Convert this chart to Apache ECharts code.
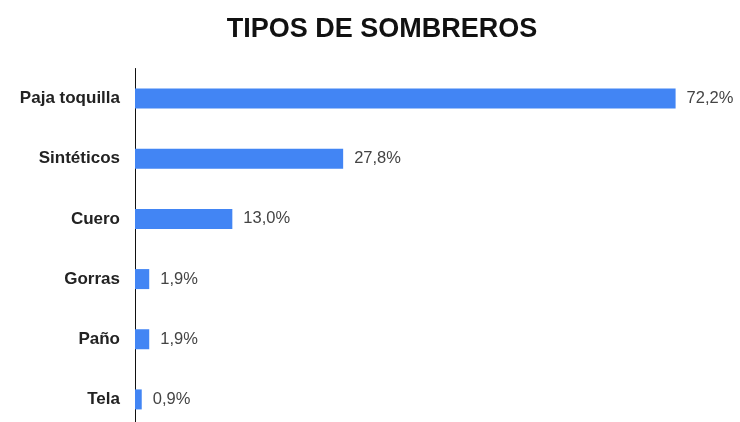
<!DOCTYPE html>
<html>
<head>
<meta charset="utf-8">
<script src="https://cdn.jsdelivr.net/npm/echarts@6/dist/echarts.min.js"></script>
<style>
  html, body { margin: 0; padding: 0; background: #ffffff; }
  #chart { width: 740px; height: 422px; }
</style>
</head>
<body>
<div id="chart"></div>
<script>
// Hat types and their share of the total (%)
const categories = ['Paja toquilla', 'Sintéticos', 'Cuero', 'Gorras', 'Paño', 'Tela'];
const shares = [72.2, 27.8, 13.0, 1.9, 1.9, 0.9];
const titleText = 'TIPOS DE SOMBREROS';

const chart = echarts.init(document.getElementById('chart'), null, { renderer: 'canvas' });

chart.setOption({
  backgroundColor: '#ffffff',
  animation: false,
  title: {
    text: titleText,
    left: 377,
    textAlign: 'center',
    top: 11,
    textStyle: {
      fontFamily: 'Liberation Sans, Arial, sans-serif',
      fontWeight: 'bold',
      fontSize: 27,
      color: '#111111'
    }
  },
  grid: {
    left: 135,
    top: 68.5,
    width: 599,
    height: 361,
    containLabel: false,
    outerBoundsMode: 'none'
  },
  xAxis: {
    type: 'value',
    min: 0,
    max: 80,
    show: false
  },
  yAxis: {
    type: 'category',
    data: categories,
    inverse: true,
    axisLine: { show: true, lineStyle: { color: '#111111', width: 1 } },
    axisTick: { show: false },
    splitLine: { show: false },
    axisLabel: {
      margin: 15,
      fontFamily: 'Liberation Sans, Arial, sans-serif',
      fontWeight: 'bold',
      fontSize: 17,
      color: '#222222'
    }
  },
  series: [{
    type: 'bar',
    data: shares,
    barWidth: 20,
    itemStyle: { color: '#4285f4' },
    label: {
      show: true,
      position: 'right',
      distance: 11,
      fontFamily: 'Liberation Sans, Arial, sans-serif',
      fontSize: 16.5,
      color: '#444444',
      formatter: p => p.value.toFixed(1).replace('.', ',') + '%'
    }
  }]
});
</script>
</body>
</html>
